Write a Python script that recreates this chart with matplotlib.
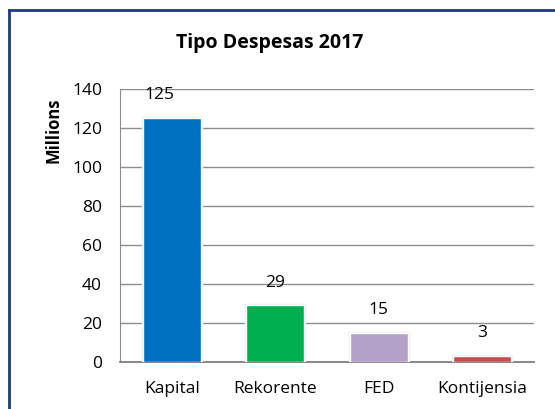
import matplotlib
matplotlib.use("Agg")
import matplotlib.pyplot as plt
from matplotlib.lines import Line2D
import matplotlib.patheffects as pe

categories = ["Kapital", "Rekorente", "FED", "Kontijensia"]
values = [125, 29, 15, 3]
labels = ["125", "29", "15", "3"]
colors = ["#0070C0", "#00B050", "#B3A2C7", "#C0504D"]
yticks = [0, 20, 40, 60, 80, 100, 120, 140]

plt.rcParams['font.family'] = ['Open Sans', 'DejaVu Sans']

W, H = 555, 409
fig = plt.figure(figsize=(W / 100, H / 100), dpi=100)
ax = fig.add_axes([120 / W, (H - 362) / H, (534 - 120) / W, (362 - 89) / H])

x = list(range(len(categories)))
bars = ax.bar(x, values, width=0.56, color=colors, edgecolor='white', linewidth=1.0, zorder=3)
for b in bars:
    b.set_path_effects([pe.Stroke(linewidth=2.5, foreground='#f0f0f0'), pe.Normal()])

for i, (xi, v, lab) in enumerate(zip(x, values, labels)):
    dx = -9 if i == 0 else 0
    ax.annotate(lab, (xi, v), xytext=(dx, 16.5), textcoords='offset points',
                ha='center', va='center', fontsize=12.5, color='black', zorder=4)

ax.set_xlim(-0.5, len(categories) - 0.5)
ax.set_ylim(0, 140)
ax.set_yticks(yticks)
ax.set_xticks(x)
ax.set_xticklabels(categories)
ax.tick_params(axis='both', length=0, labelsize=12.5)
ax.tick_params(axis='y', pad=13)
ax.tick_params(axis='x', pad=14)
ax.grid(axis='y', color='#8c8c8c', linewidth=1.0, zorder=0)
ax.set_axisbelow(True)
for s in ['top', 'right']:
    ax.spines[s].set_visible(False)
ax.spines['left'].set_color('#8c8c8c')
ax.spines['bottom'].set_color('#7f7f7f')
ax.spines['bottom'].set_linewidth(1.3)

fig.text(270 / W, 1 - 43 / H, "Tipo Despesas 2017", ha='center', va='center',
         fontsize=14, fontweight='bold')
fig.text(54 / W, 1 - 130 / H, "Millions", ha='center', va='center', rotation=90,
         fontsize=12, fontweight='bold')

# chart frame (top and left edges)
fig.add_artist(Line2D([8.5 / W, 1.0], [1 - 10 / H, 1 - 10 / H], transform=fig.transFigure,
                      color='#1F3A78', linewidth=2))
fig.add_artist(Line2D([9 / W, 9 / W], [0, 1 - 10 / H], transform=fig.transFigure,
                      color='#1F3A78', linewidth=2))

fig.savefig("out.png", dpi=100)
